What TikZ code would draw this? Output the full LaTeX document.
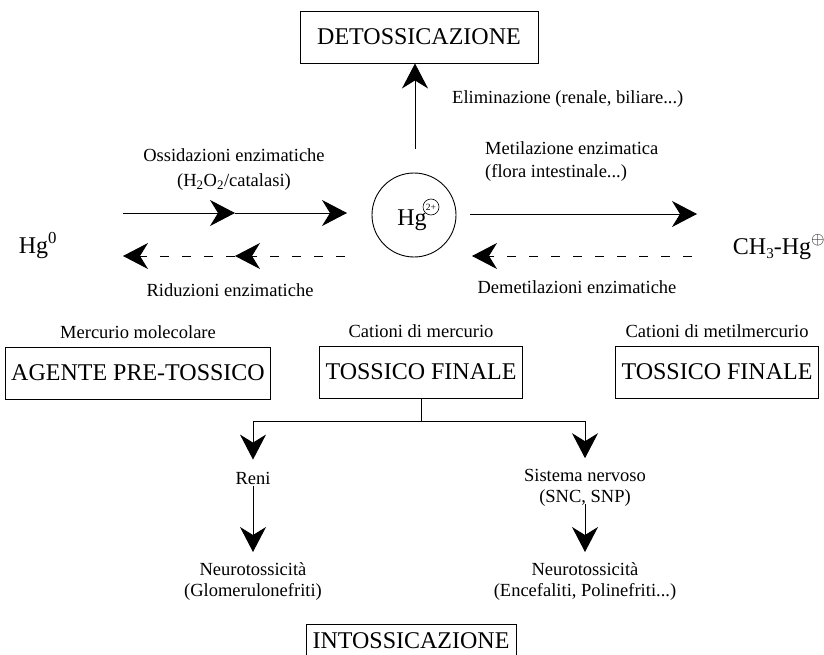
\documentclass[tikz,border=0pt]{standalone}
\usepackage{fontspec}
\setmainfont{Liberation Serif}
\usetikzlibrary{arrows.meta,positioning}

\begin{document}
\begin{tikzpicture}[x=1pt,y=-1pt,
  box/.style={draw,line width=0.9pt,inner xsep=6pt,inner ysep=2pt,minimum height=52pt,font=\fontsize{24}{28}\selectfont},
  lab/.style={inner sep=2pt,align=center,font=\fontsize{18.5}{21}\selectfont},
  chem/.style={inner sep=1pt,anchor=base,font=\fontsize{24}{28}\selectfont},
  arr/.style={line width=1pt,-{Stealth[length=25pt,width=26pt,inset=8pt]}},
  back/.style={arr,dash pattern=on 9pt off 13pt}]
\useasboundingbox (0,0) rectangle (824,655);
\clip (0,0) rectangle (824,655);

\node (det) [box,minimum width=238pt] at (419,37) {DETOSSICAZIONE};
\node (hg) [circle,draw,line width=0.9pt,minimum size=84pt] at (414,215) {};
\node (hgtxt) [chem] at (412,225) {Hg};
\node (charge) [circle,draw,line width=0.6pt,inner sep=0.3pt,minimum size=16pt,font=\fontsize{9.5}{9.5}\selectfont] at (431,207) {2+};
\coordinate (up) at (415,149);
\draw[arr] (up) -- (up |- det.south);
\node (elim) [lab,anchor=west] at (450,99) {Eliminazione (renale, biliare...)};

\node (hgz) [chem] at (38,253) {Hg\textsuperscript{0}};
\node (mehg) [chem] at (779,254) {CH\raisebox{-4pt}{\fontsize{15}{15}\selectfont 3}-Hg\textsuperscript{$\oplus$}};

\node (ox) [lab,font=\fontsize{18.5}{25}\selectfont] at (234,170) {Ossidazioni enzimatiche\\(H\textsubscript{2}O\textsubscript{2}/catalasi)};
\coordinate (oxA) at (123,213);
\coordinate (oxM) at (235,213);
\coordinate (oxB) at (347,213);
\draw[arr] (oxA) -- (oxM);
\draw[arr] (oxM) -- (oxB);
\coordinate (rdA) at (345,256);
\coordinate (rdM) at (235,256);
\coordinate (rdB) at (123,256);
\draw[back] (rdA) -- (rdM);
\draw[back] (rdM) -- (rdB);
\node (rid) [lab] at (230,290) {Riduzioni enzimatiche};

\node (met) [lab,anchor=west,align=left,font=\fontsize{18.5}{23}\selectfont] at (483,162) {Metilazione enzimatica\\(flora intestinale...)};
\coordinate (meA) at (470,214);
\coordinate (meB) at (697,214);
\draw[arr] (meA) -- (meB);
\coordinate (dmA) at (692,256);
\coordinate (dmB) at (472,256);
\draw[back] (dmA) -- (dmB);
\node (demet) [lab] at (577,287) {Demetilazioni enzimatiche};

\node (agente) [box,minimum width=263pt] at (138,373) {AGENTE PRE-TOSSICO};
\node (tossA) [box,minimum width=203pt] at (421,372) {TOSSICO FINALE};
\node (tossB) [box,minimum width=197pt] at (717,372) {TOSSICO FINALE};
\node (mol) [lab,above=6pt of agente] {Mercurio molecolare};
\node (cat) [lab,above=6pt of tossA] {Cationi di mercurio};
\node (catm) [lab,above=6pt of tossB] {Cationi di metilmercurio};

\coordinate (split) at (421,421);
\node (reni) [lab] at (253,478) {Reni};
\node (sn) [lab] at (585,488) {Sistema nervoso\\(SNC, SNP)};
\draw[line width=1pt] (tossA) -- (split);
\draw[arr,shorten >=10pt] (split) -| (reni);
\draw[arr,shorten >=9pt] (split) -| (sn);
\node (neuA) [lab,anchor=north] at (253,560) {Neurotossicità\\(Glomerulonefriti)};
\node (neuB) [lab,anchor=north] at (585,560) {Neurotossicità\\(Encefaliti, Polinefriti...)};
\draw[arr] (reni) -- ([yshift=8pt]neuA.north);
\draw[arr] ([yshift=5pt]sn.south) -- ([yshift=8pt]neuB.north);

\node (intox) [box,minimum width=210pt,minimum height=34pt] at (411,641) {INTOSSICAZIONE};
\end{tikzpicture}
\end{document}
